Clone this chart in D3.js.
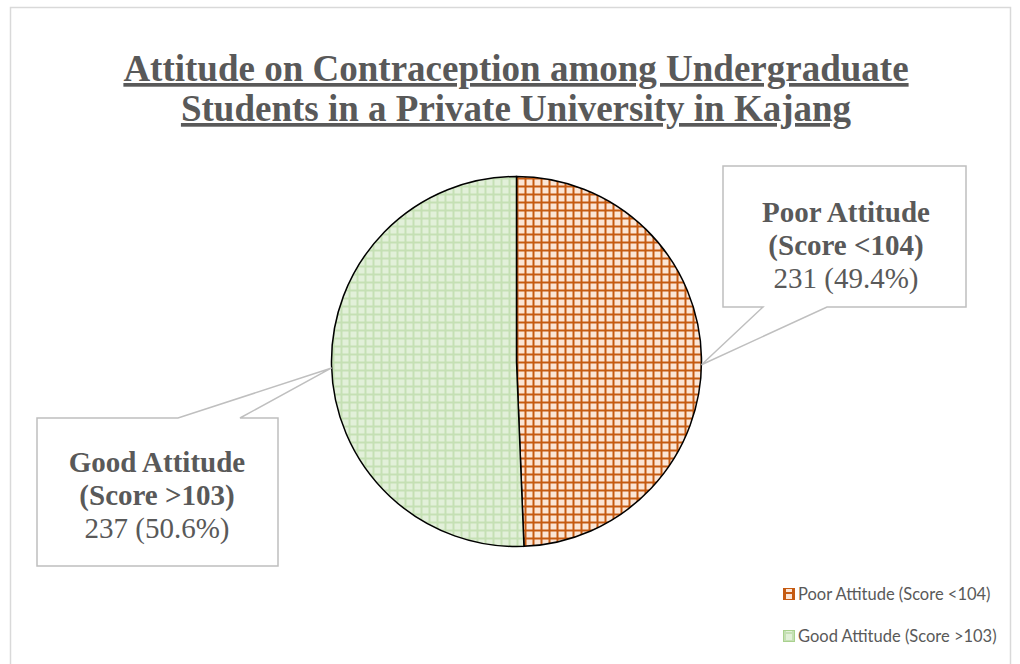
<!DOCTYPE html>
<html><head><meta charset="utf-8">
<script src="https://cdn.jsdelivr.net/npm/d3@7"></script>
<style>html,body{margin:0;padding:0;background:#fff;}svg{display:block;}
.serif{font-family:"Liberation Serif","Times New Roman",Times,serif;}
.sans{font-family:Lato,"Liberation Sans",sans-serif;}
</style>
</head><body>
<svg id="chart" width="1020" height="664"></svg>
<script>
// ---- data ----
const categories = ["Poor Attitude (Score <104)", "Good Attitude (Score >103)"];
const labelTitles = [["Poor Attitude", "(Score <104)"], ["Good Attitude", "(Score >103)"]];
const counts = [231, 237];
const percents = ["49.4%", "50.6%"];
const titleLines = ["Attitude on Contraception among Undergraduate", "Students in a Private University in Kajang"];

// ---- layout ----
const cx = 516.5, cy = 361.5, R = 185;
const svg = d3.select("#chart");
const grey = "#595959";

// patterns
const defs = svg.append("defs");
const pats = [
  {id: "patPoor", line: "#C55A11", fill: "#FBE5D6"},
  {id: "patGood", line: "#C5E0B4", fill: "#E2F0D9"}
];
pats.forEach(p => {
  const pt = defs.append("pattern").attr("id", p.id).attr("patternUnits", "userSpaceOnUse")
    .attr("width", 8).attr("height", 8);
  pt.append("rect").attr("width", 8).attr("height", 8).attr("fill", p.line);
  pt.append("rect").attr("x", 2).attr("y", 2).attr("width", 6).attr("height", 6).attr("fill", p.fill);
});

// chart border
svg.append("rect").attr("x", 10.5).attr("y", 7.5).attr("width", 1000).attr("height", 660)
  .attr("fill", "#fff").attr("stroke", "#d9d9d9").attr("stroke-width", 1.5);

// title
const title = svg.append("text").attr("class", "serif").attr("text-anchor", "middle")
  .attr("font-weight", "bold")
  .attr("font-size", 37).attr("fill", grey).attr("text-decoration", "underline");
titleLines.forEach((t, i) => {
  title.append("tspan").attr("x", 516).attr("y", 81 + i * 40).text(t);
});

// pie
const data = categories.map((c, i) => ({cat: c, value: counts[i], i}));
const pie = d3.pie().sort(null).value(d => d.value).startAngle(0).endAngle(2 * Math.PI);
const arcs = pie(data);
const arc = d3.arc().innerRadius(0).outerRadius(R);
const g = svg.append("g").attr("transform", `translate(${cx},${cy})`);
g.selectAll("path").data(arcs).join("path")
  .attr("d", arc)
  .attr("fill", d => `url(#${pats[d.data.i].id})`)
  .attr("stroke", "#000").attr("stroke-width", 1.5);

// callouts
const callouts = [
  {box: [723, 166, 966, 307], tipAngle: 91 * Math.PI / 180, side: "bottom", gap: [763, 827], textX: 846, textY: 222},
  {box: [37, 418, 278, 566], tipAngle: 268 * Math.PI / 180, side: "top", gap: [178, 240], textX: 157, textY: 472}
];
callouts.forEach((c, i) => {
  const [x0, y0, x1, y1] = c.box;
  const tx = cx + R * Math.sin(c.tipAngle), ty = cy - R * Math.cos(c.tipAngle);
  let pts;
  if (c.side === "bottom") {
    pts = [[x0, y0], [x1, y0], [x1, y1], [c.gap[1], y1], [tx, ty], [c.gap[0], y1], [x0, y1]];
  } else {
    pts = [[x0, y0], [c.gap[0], y0], [tx, ty], [c.gap[1], y0], [x1, y0], [x1, y1], [x0, y1]];
  }
  svg.append("path").attr("d", d3.line()(pts) + "Z")
    .attr("fill", "#fff").attr("stroke", "#bfbfbf").attr("stroke-width", 1.5);
  const t = svg.append("text").attr("class", "serif").attr("text-anchor", "middle")
    .attr("font-size", 29).attr("fill", grey);
  labelTitles[i].forEach((l, k) => {
    t.append("tspan").attr("x", c.textX).attr("y", c.textY + k * 33).attr("font-weight", "bold").text(l);
  });
  t.append("tspan").attr("x", c.textX).attr("y", c.textY + 66).text(`${counts[i]} (${percents[i]})`);
});

// legend
const leg = svg.append("g");
categories.forEach((c, i) => {
  const y = 594 + i * 42;
  leg.append("rect").attr("x", 783.5).attr("y", y - 5.5).attr("width", 11).attr("height", 11)
    .attr("fill", `url(#${pats[i].id})`).attr("stroke", i === 0 ? "#C55A11" : "#A9D18E").attr("stroke-width", 1);
  leg.append("text").attr("class", "sans").attr("x", 798).attr("y", y).attr("dy", "0.35em")
    .attr("font-size", 16.5).attr("fill", grey).text(c);
});
</script>
</body></html>
